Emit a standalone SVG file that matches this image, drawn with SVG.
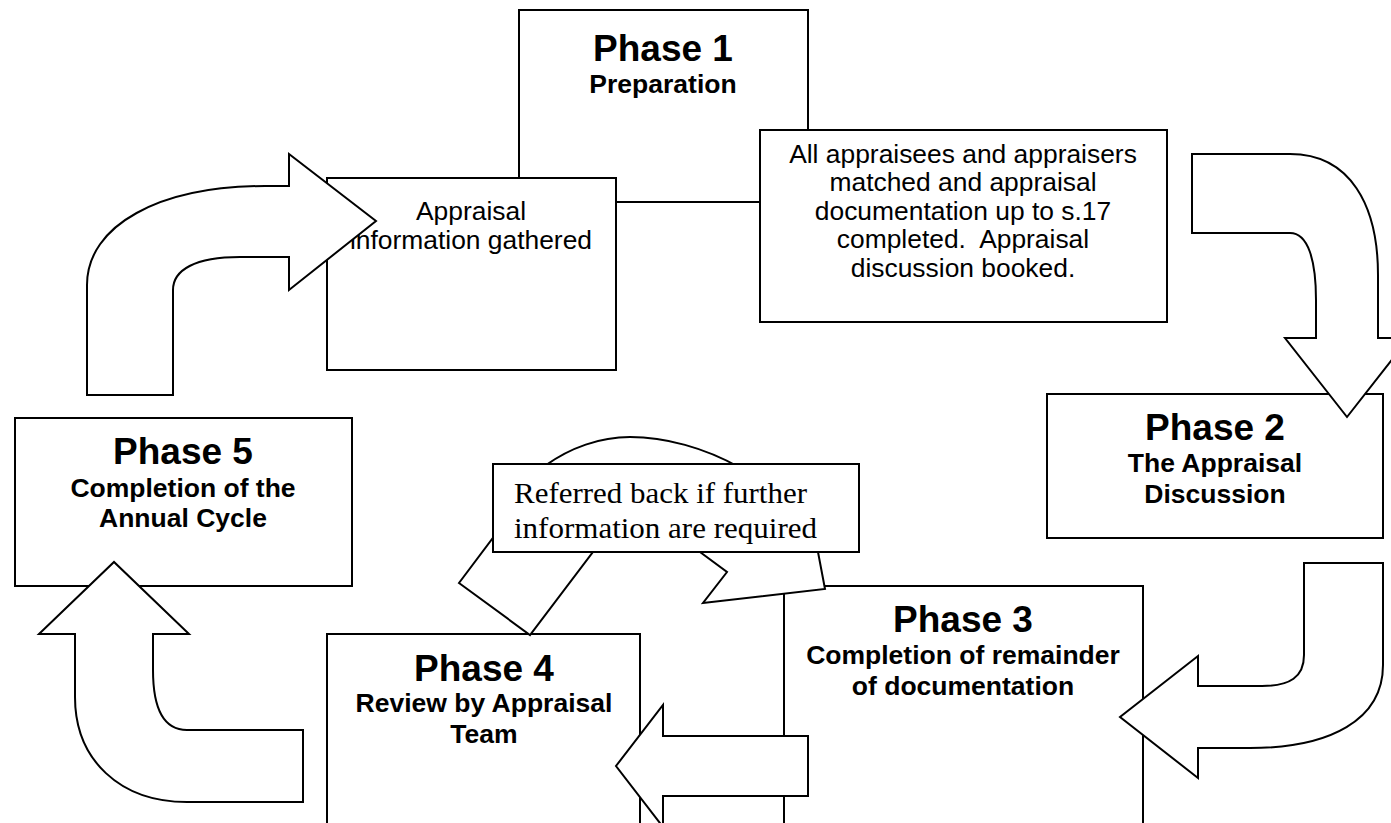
<svg xmlns="http://www.w3.org/2000/svg" width="1391" height="823" viewBox="0 0 1391 823">
<style>
.box{fill:#fff;stroke:#000;stroke-width:2}
.arr{fill:#fff;stroke:#000;stroke-width:2;stroke-linejoin:miter}
.t{font-family:"Liberation Sans",Arial,sans-serif;fill:#000;text-anchor:middle}
.h{font-size:37px;font-weight:bold}
.s{font-size:26.5px;font-weight:bold}
.b{font-size:26.4px}
.r{font-family:"Liberation Serif","Times New Roman",serif;font-size:29px;fill:#000}
</style>
<rect width="1391" height="823" fill="#fff"/>
<g id="phase1">
<rect class="box" x="519" y="10" width="289" height="192"/>
<text class="t h" x="663" y="61">Phase 1</text>
<text class="t s" x="663" y="93">Preparation</text>
</g>
<g id="info-gathered">
<rect class="box" x="327" y="178" width="289" height="192"/>
<text class="t b" x="471" y="220">Appraisal</text>
<text class="t b" x="471" y="249">information gathered</text>
</g>
<g id="matched">
<rect class="box" x="760" y="130" width="407" height="192"/>
<text class="t b" x="963" y="163">All appraisees and appraisers</text>
<text class="t b" x="963" y="191">matched and appraisal</text>
<text class="t b" x="963" y="220">documentation up to s.17</text>
<text class="t b" x="963" y="248" xml:space="preserve">completed.  Appraisal</text>
<text class="t b" x="963" y="277">discussion booked.</text>
</g>
<g id="phase2">
<rect class="box" x="1047" y="394" width="336" height="144"/>
<text class="t h" x="1215" y="440">Phase 2</text>
<text class="t s" x="1215" y="472">The Appraisal</text>
<text class="t s" x="1215" y="503">Discussion</text>
</g>
<g id="phase3">
<rect class="box" x="784" y="586" width="359" height="250"/>
<text class="t h" x="963" y="632">Phase 3</text>
<text class="t s" x="963" y="664">Completion of remainder</text>
<text class="t s" x="963" y="695">of documentation</text>
</g>
<g id="phase4">
<rect class="box" x="327" y="634" width="313" height="202"/>
<text class="t h" x="484" y="681">Phase 4</text>
<text class="t s" x="484" y="712">Review by Appraisal</text>
<text class="t s" x="484" y="743">Team</text>
</g>
<g id="phase5">
<rect class="box" x="15" y="418" width="337" height="168"/>
<text class="t h" x="183" y="464">Phase 5</text>
<text class="t s" x="183" y="497">Completion of the</text>
<text class="t s" x="183" y="527">Annual Cycle</text>
</g>
<g id="connectors">
<path class="arr" d="M87,395 L87,285 C87,225 160,186 265,186 L289,186 L289,154 L376,221 L289,290 L289,257 L240,257 C195,257 173,270 173,290 L173,395 Z"/>
<path class="arr" d="M1192,154 L1290,154 C1350,154 1378,205 1378,275 L1378,338 L1409,338 L1347,417 L1285,338 L1316,338 L1316,300 C1316,260 1308,233 1290,233 L1192,233 Z"/>
<path class="arr" d="M1304,563 L1383,563 L1383,665 C1383,720 1330,748 1250,748 L1198,748 L1198,778 L1120,717 L1198,656 L1198,686 L1262,686 C1290,686 1304,677 1304,655 Z"/>
<path class="arr" d="M808,736 L663,736 L663,705 L616,766 L663,827 L663,796 L808,796 Z"/>
<path class="arr" d="M303,802 L187,802 C120,802 75,760 75,697 L75,634 L39,634 L114,562 L189,634 L153,634 L153,670 C153,710 165,730 187,730 L303,730 Z"/>
<path class="arr" d="M459,583 L530,635 L593,552 Q646,500 700,552 L727,572 L703,603 L825,589 L818,552 C790,480 700,437 630,437 C570,437 510,480 495,535 Z"/>
</g>
<g id="referred">
<rect class="box" x="493" y="464" width="366" height="88"/>
<text class="r" x="514" y="503" textLength="293" lengthAdjust="spacingAndGlyphs">Referred back if further</text>
<text class="r" x="514" y="538" textLength="303" lengthAdjust="spacingAndGlyphs">information are required</text>
</g>
</svg>
